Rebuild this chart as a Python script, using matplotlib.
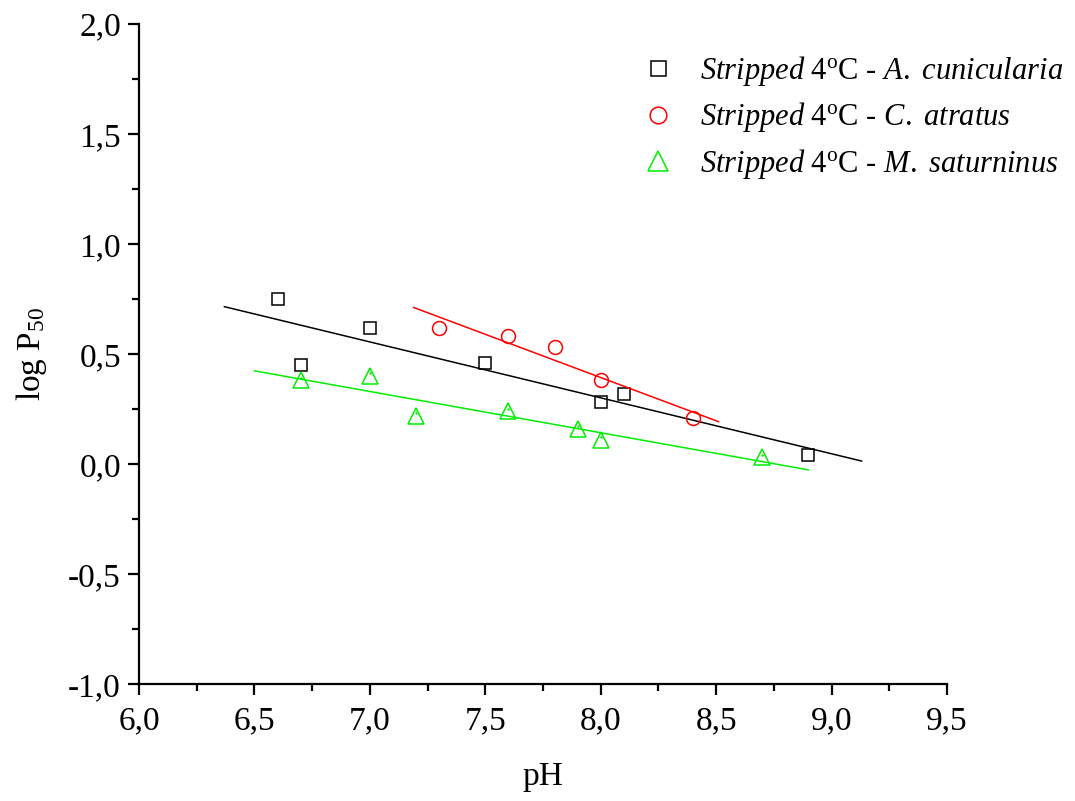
import numpy as np
import matplotlib.pyplot as plt
from matplotlib.ticker import MultipleLocator, FuncFormatter

plt.rcParams['font.family'] = ['Liberation Serif', 'DejaVu Serif']
plt.rcParams['mathtext.fontset'] = 'custom'
plt.rcParams['mathtext.rm'] = 'Liberation Serif'
plt.rcParams['mathtext.it'] = 'Liberation Serif:italic'

# A. cunicularia
ph_a = np.array([6.6, 6.7, 7.0, 7.5, 8.0, 8.1, 8.9])
logp_a = np.array([0.75, 0.45, 0.62, 0.46, 0.28, 0.32, 0.04])
fit_range_a = [6.37, 9.13]

# C. atratus
ph_c = np.array([7.3, 7.6, 7.8, 8.0, 8.4])
logp_c = np.array([0.62, 0.58, 0.53, 0.38, 0.21])
fit_range_c = [7.19, 8.51]

# M. saturninus
ph_m = np.array([6.7, 7.0, 7.2, 7.6, 7.9, 8.0, 8.7])
logp_m = np.array([0.38, 0.40, 0.22, 0.24, 0.16, 0.11, 0.03])
fit_range_m = [6.5, 8.9]

labels = [r'$\mathit{Stripped}$ 4$^{\mathrm{o}}$C - $\mathit{A.\ cunicularia}$',
          r'$\mathit{Stripped}$ 4$^{\mathrm{o}}$C - $\mathit{C.\ atratus}$',
          r'$\mathit{Stripped}$ 4$^{\mathrm{o}}$C - $\mathit{M.\ saturninus}$']

fig = plt.figure(figsize=(10.75, 8.01), dpi=100)
ax = fig.add_axes([0.1293, 0.146, 0.7516, 0.824])

series = [(ph_a, logp_a, fit_range_a, 's', 'black', 9),
          (ph_c, logp_c, fit_range_c, 'o', '#ff0000', 10),
          (ph_m, logp_m, fit_range_m, '^', '#00ee00', 12)]

handles = []
for (x, y, rng, mk, col, ms), lab in zip(series, labels):
    h, = ax.plot(x, y, linestyle='none', marker=mk, markersize=ms, markerfacecolor='none',
                 markeredgecolor=col, markeredgewidth=1.1, label=lab)
    handles.append(h)
    m, b = np.polyfit(x, y, 1)
    xx = np.array(rng)
    ax.plot(xx, m * xx + b, color=col, linewidth=1.1)

# small centre dot inside the triangles
ax.plot(ph_m, logp_m + 0.012, linestyle='none', marker='.', markersize=1.5, color='#00ee00')

ax.set_xlim(6.0, 9.5)
ax.set_ylim(-1.0, 2.0)
ax.xaxis.set_major_locator(MultipleLocator(0.5))
ax.xaxis.set_minor_locator(MultipleLocator(0.25))
ax.yaxis.set_major_locator(MultipleLocator(0.5))
ax.yaxis.set_minor_locator(MultipleLocator(0.25))
comma = FuncFormatter(lambda v, p: f'{v:.1f}'.replace('.', ','))
ax.xaxis.set_major_formatter(comma)
ax.yaxis.set_major_formatter(comma)

for s in ['top', 'right']:
    ax.spines[s].set_visible(False)
for s in ['left', 'bottom']:
    ax.spines[s].set_linewidth(1.6)

ax.tick_params(axis='both', which='major', direction='out', length=8, width=1.6,
               labelsize=24)
ax.tick_params(axis='both', which='minor', direction='out', length=5, width=1.6)
ax.tick_params(axis='x', which='major', pad=8)
ax.tick_params(axis='y', which='major', pad=5)

ax.set_xlabel('pH', fontsize=24, labelpad=18)
ax.set_ylabel('log P$_{50}$', fontsize=24, labelpad=14)

fig.legend(handles=handles, loc='upper left', bbox_to_anchor=(0.598, 0.9325),
           frameon=False, fontsize=22, borderpad=0, borderaxespad=0, markerscale=1.2,
           handlelength=1.0, handletextpad=0.87, labelspacing=0.4)

fig.savefig('out.png', dpi=100)
